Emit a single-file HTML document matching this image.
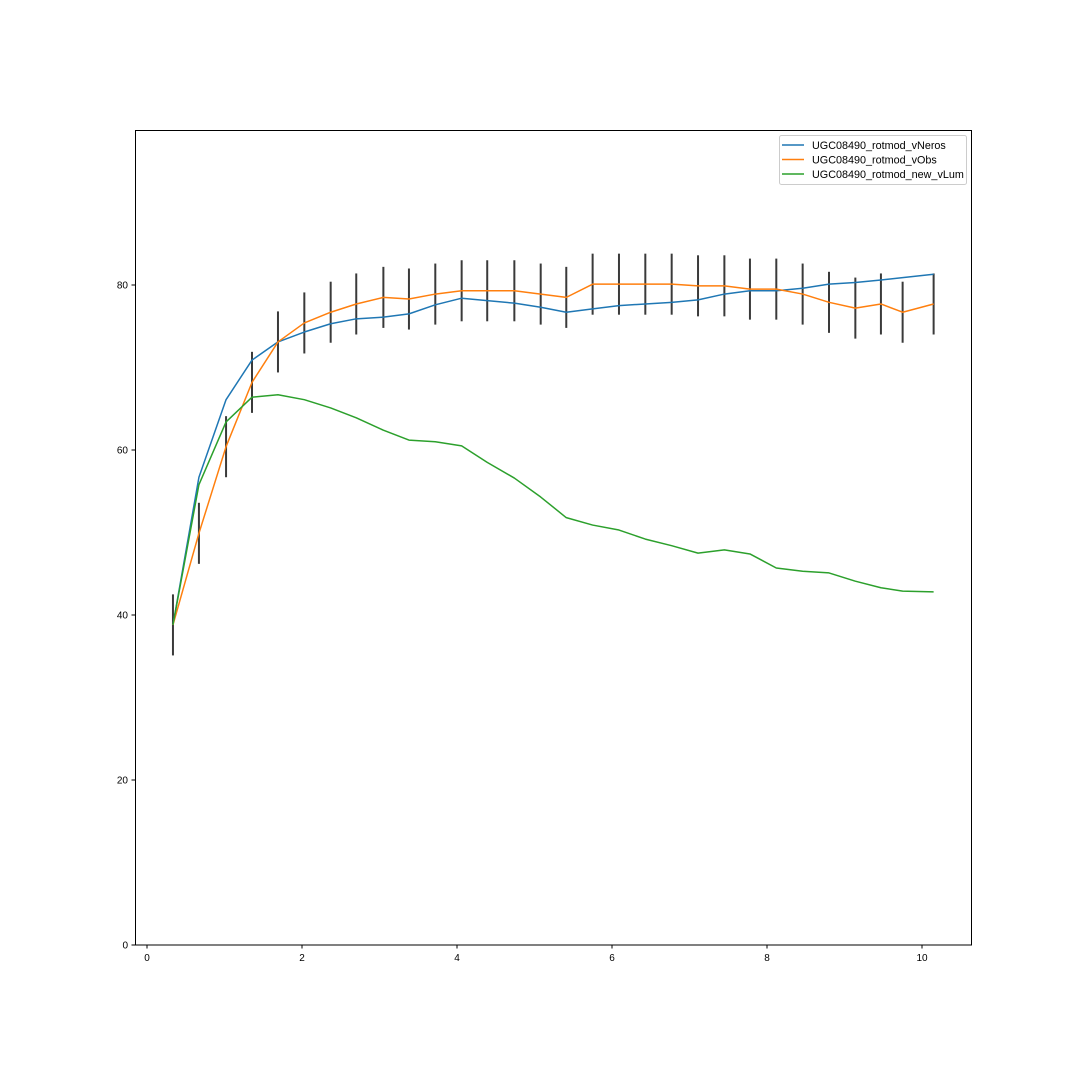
<!DOCTYPE html>
<html><head><meta charset="utf-8"><style>
html,body{margin:0;padding:0;background:#fff;}
svg{display:block;font-family:"Liberation Sans","DejaVu Sans",sans-serif;}
</style></head><body>
<svg id="chart" width="1080" height="1080" viewBox="0 0 1080 1080">
<rect x="0" y="0" width="1080" height="1080" fill="#fff"/>
<g id="errs"></g>
<g id="lines"></g>
<rect x="135.5" y="130.5" width="836" height="814.5" fill="none" stroke="#000" stroke-width="1"/>
<g id="xt"></g>
<g id="yt"></g>
<g>
<rect x="779.5" y="135.5" width="187" height="49" fill="#fff" stroke="#ccc" rx="2"/>
<line x1="782" x2="804" y1="145" y2="145" stroke="#1f77b4" stroke-width="1.5"/>
<text x="812" y="149" font-size="10.8">UGC08490_rotmod_vNeros</text>
<line x1="782" x2="804" y1="159.5" y2="159.5" stroke="#ff7f0e" stroke-width="1.5"/>
<text x="812" y="163.5" font-size="10.8">UGC08490_rotmod_vObs</text>
<line x1="782" x2="804" y1="174" y2="174" stroke="#2ca02c" stroke-width="1.5"/>
<text x="812" y="178" font-size="10.8">UGC08490_rotmod_new_vLum</text>
</g>
</svg>
<script>
const radius = [0.335,0.67,1.02,1.355,1.69,2.03,2.37,2.70,3.05,3.38,3.72,4.06,4.39,4.74,5.08,5.41,5.75,6.09,6.43,6.77,7.11,7.45,7.78,8.12,8.46,8.80,9.14,9.47,9.75,10.15];
const vNeros = [38.8,56.7,66.1,70.9,73.1,74.3,75.3,75.9,76.1,76.5,77.6,78.4,78.1,77.8,77.3,76.7,77.1,77.5,77.7,77.9,78.2,78.9,79.3,79.3,79.6,80.1,80.3,80.6,80.9,81.3];
const vObs = [38.8,49.9,60.4,68.2,73.1,75.4,76.7,77.7,78.5,78.3,78.9,79.3,79.3,79.3,78.9,78.5,80.1,80.1,80.1,80.1,79.9,79.9,79.5,79.5,78.9,77.9,77.2,77.7,76.7,77.7];
const vErr = [3.7,3.7,3.7,3.7,3.7,3.7,3.7,3.7,3.7,3.7,3.7,3.7,3.7,3.7,3.7,3.7,3.7,3.7,3.7,3.7,3.7,3.7,3.7,3.7,3.7,3.7,3.7,3.7,3.7,3.7];
const vLum = [38.8,55.8,63.4,66.4,66.7,66.1,65.1,63.9,62.4,61.2,61.0,60.5,58.5,56.6,54.3,51.8,50.9,50.3,49.2,48.4,47.5,47.9,47.4,45.7,45.3,45.1,44.1,43.3,42.9,42.8];
const xTicks = [0,2,4,6,8,10];
const yTicks = [0,20,40,60,80];
const NS = "http://www.w3.org/2000/svg";
function X(v){return 147 + v*77.5;}
function Y(v){return 945 - v*8.25;}
function mk(tag, attrs, parent){const e=document.createElementNS(NS,tag);for(const k in attrs)e.setAttribute(k,attrs[k]);parent.appendChild(e);return e;}
const errs=document.getElementById('errs');
radius.forEach((r,i)=>{
  const l=mk('line',{x1:X(r),x2:X(r),y1:Y(vObs[i]-vErr[i]),y2:Y(vObs[i]+vErr[i]),stroke:'#3a3a3a','stroke-width':2},errs);
  
  
});
const lines=document.getElementById('lines');
[[vNeros,'#1f77b4','line-vneros'],[vObs,'#ff7f0e','line-vobs'],[vLum,'#2ca02c','line-vlum']].forEach(s=>{
  const p=mk('polyline',{points:radius.map((r,i)=>X(r)+','+Y(s[0][i])).join(' '),fill:'none',stroke:s[1],'stroke-width':1.5,'stroke-linejoin':'round'},lines);
  
  
});
const xt=document.getElementById('xt');
xTicks.forEach(t=>{
  const l=mk('line',{x1:X(t),x2:X(t),y1:945,y2:948.5,stroke:'#000'},xt);
  
  
  const tx=mk('text',{x:X(t),y:961,'font-size':10,'text-anchor':'middle'},xt);
  tx.textContent=t;
  
  
});
const yt=document.getElementById('yt');
yTicks.forEach(t=>{
  const l=mk('line',{x1:131.5,x2:135,y1:Y(t),y2:Y(t),stroke:'#000'},yt);
  
  
  const tx=mk('text',{x:128,y:Y(t)+3.5,'font-size':10,'text-anchor':'end'},yt);
  tx.textContent=t;
  
  
});
</script>
</body></html>
